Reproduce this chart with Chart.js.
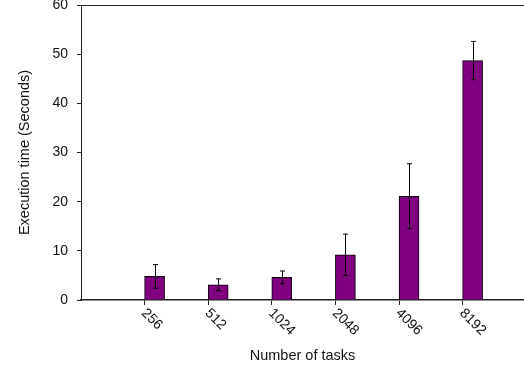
<!DOCTYPE html>
<html lang="en">
<head>
<meta charset="UTF-8">
<title>Execution time vs number of tasks</title>
<script src="https://cdn.jsdelivr.net/npm/chart.js@4.4.0/dist/chart.umd.min.js"></script>
<style>
  html, body { margin: 0; padding: 0; background: #fff; }
  #wrap { width: 524px; height: 372px; }
</style>
</head>
<body>
<div id="wrap"><canvas id="chart" width="524" height="372"></canvas></div>
<script>
const taskLabels = ['256', '512', '1024', '2048', '4096', '8192'];
const execTimes = [4.8, 3.1, 4.6, 9.2, 21.1, 48.7];
const execErrors = [2.4, 1.2, 1.3, 4.2, 6.6, 3.9];
const yTicks = [0, 10, 20, 30, 40, 50, 60];

const FONT = "'Liberation Sans', Arial, sans-serif";
const INK = '#111';

// bars sit just right of their tick, like the original spreadsheet chart
const barShift = 0.157;

const points = taskLabels.map((l, i) => ({ x: i + 1 + barShift, y: execTimes[i] }));

const errorBars = {
  id: 'errorBars',
  afterDatasetsDraw(chart) {
    const ctx = chart.ctx;
    const ys = chart.scales.y;
    const meta = chart.getDatasetMeta(0);
    ctx.save();
    ctx.strokeStyle = '#000';
    ctx.lineWidth = 1;
    meta.data.forEach((bar, i) => {
      const x = Math.round(bar.x) + 0.5;
      const top = ys.getPixelForValue(execTimes[i] + execErrors[i]);
      const bot = ys.getPixelForValue(execTimes[i] - execErrors[i]);
      ctx.beginPath();
      ctx.moveTo(x, top); ctx.lineTo(x, bot);
      ctx.moveTo(x - 2.5, top); ctx.lineTo(x + 2.5, top);
      ctx.moveTo(x - 2.5, bot); ctx.lineTo(x + 2.5, bot);
      ctx.stroke();
    });
    ctx.restore();
  },
  afterDraw(chart) {
    const ctx = chart.ctx;
    const area = chart.chartArea;
    const xs = chart.scales.x;
    ctx.save();
    // frame line along the top
    ctx.strokeStyle = '#222';
    ctx.lineWidth = 1;
    ctx.beginPath();
    ctx.moveTo(area.left, Math.round(area.top) + 0.5);
    ctx.lineTo(area.right, Math.round(area.top) + 0.5);
    ctx.stroke();
    // slanted category labels, reading down to the right
    ctx.fillStyle = INK;
    ctx.font = '14px ' + FONT;
    ctx.textAlign = 'left';
    ctx.textBaseline = 'middle';
    taskLabels.forEach((l, i) => {
      const px = xs.getPixelForValue(i + 1);
      ctx.save();
      ctx.translate(px - 1, area.bottom + 11);
      ctx.rotate(Math.PI / 4);
      ctx.fillText(l, 0, 0);
      ctx.restore();
    });
    ctx.restore();
  }
};

new Chart(document.getElementById('chart').getContext('2d'), {
  type: 'bar',
  data: {
    datasets: [{
      label: 'Execution time',
      data: points,
      backgroundColor: '#800080',
      borderColor: '#000',
      borderWidth: 1,
      barThickness: 20
    }]
  },
  options: {
    responsive: false,
    animation: false,
    layout: { padding: { top: 5, right: 0, bottom: 0, left: 0 } },
    plugins: {
      legend: { display: false },
      tooltip: { enabled: false }
    },
    scales: {
      x: {
        type: 'linear',
        offset: false,
        min: 0,
        max: 6.965,
        afterBuildTicks(scale) {
          scale.ticks = taskLabels.map((l, i) => ({ value: i + 1 }));
        },
        afterFit(scale) {
          scale.height = 72;
          scale.paddingLeft = 0;
          scale.paddingRight = 0;
        },
        grid: { display: true, offset: false, drawOnChartArea: false, tickLength: 5, color: '#222' },
        border: { display: true, color: '#222', width: 1.5 },
        ticks: { display: false },
        title: {
          display: true,
          text: 'Number of tasks',
          color: INK,
          font: { family: FONT, size: 14.5 },
          padding: { top: 0, bottom: 7 }
        }
      },
      y: {
        min: 0,
        max: 60,
        afterBuildTicks(scale) {
          scale.ticks = yTicks.map(v => ({ value: v }));
        },
        afterFit(scale) {
          scale.width = 81;
          scale.paddingTop = 0;
          scale.paddingBottom = 0;
        },
        grid: { display: true, drawOnChartArea: false, tickLength: 4, color: '#222' },
        border: { display: true, color: '#222', width: 1 },
        ticks: {
          color: INK,
          padding: 9,
          font: { family: FONT, size: 14 }
        },
        title: {
          display: true,
          text: 'Execution time (Seconds)',
          color: INK,
          font: { family: FONT, size: 14.5 },
          padding: { top: 16, bottom: 0 }
        }
      }
    }
  },
  plugins: [errorBars]
});
</script>
</body>
</html>
